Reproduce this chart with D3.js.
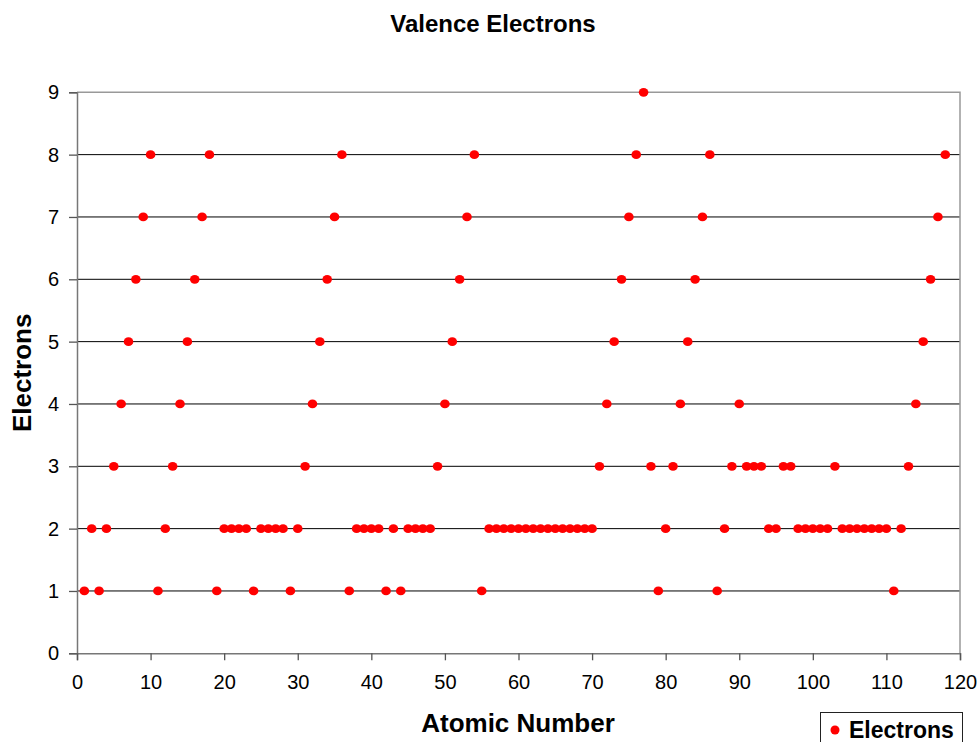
<!DOCTYPE html>
<html>
<head>
<meta charset="utf-8">
<script src="https://cdn.jsdelivr.net/npm/d3@7"></script>
<style>
  html, body { margin: 0; padding: 0; background: #fff; }
  svg { display: block; font-family: "Liberation Sans", Arial, sans-serif; }
</style>
</head>
<body>
<svg id="chart" width="979" height="742"></svg>
<script>
const atomicNumbers = [
  1,2,3,4,5,6,7,8,9,10,11,12,13,14,15,16,17,18,19,20,
  21,22,23,24,25,26,27,28,29,30,31,32,33,34,35,36,37,38,39,40,
  41,42,43,44,45,46,47,48,49,50,51,52,53,54,55,56,57,58,59,60,
  61,62,63,64,65,66,67,68,69,70,71,72,73,74,75,76,77,78,79,80,
  81,82,83,84,85,86,87,88,89,90,91,92,93,94,95,96,97,98,99,100,
  101,102,103,104,105,106,107,108,109,110,111,112,113,114,115,116,117,118
];
const electrons = [
  1,2,1,2,3,4,5,6,7,8, 1,2,3,4,5,6,7,8,1,2,
  2,2,2,1,2,2,2,2,1,2, 3,4,5,6,7,8,1,2,2,2,
  2,1,2,1,2,2,2,2,3,4, 5,6,7,8,1,2,2,2,2,2,
  2,2,2,2,2,2,2,2,2,2, 3,4,5,6,7,8,9,3,1,2,
  3,4,5,6,7,8,1,2,3,4, 3,3,3,2,2,3,3,2,2,2,
  2,2,3,2,2,2,2,2,2,2, 1,2,3,4,5,6,7,8
];
const xTicks = [0,10,20,30,40,50,60,70,80,90,100,110,120];
const yTicks = [0,1,2,3,4,5,6,7,8,9];
const chartTitle = "Valence Electrons";
const xTitle = "Atomic Number";
const yTitle = "Electrons";
const seriesName = "Electrons";

(function () {
const svg = d3.select("#chart");
const pLeft = 77, pRight = 960, pTop = 92.3, pBottom = 653.3;

const x = d3.scaleLinear().domain([0, 120]).range([pLeft, pRight]);
const y = d3.scaleLinear().domain([0, 9]).range([pBottom, pTop]);

// gridlines
svg.append("g").selectAll("line")
  .data(yTicks.filter(d => d > 0 && d < 9))
  .join("line")
  .attr("x1", pLeft).attr("x2", pRight)
  .attr("y1", d => y(d)).attr("y2", d => y(d))
  .attr("stroke", "#000").attr("stroke-width", 1);

// plot border (top & right)
svg.append("path")
  .attr("d", `M${pLeft},${y(9)}H${pRight}V${pBottom}`)
  .attr("fill", "none").attr("stroke", "#999").attr("stroke-width", 1.5);

// y axis
const yAxis = svg.append("g")
  .attr("transform", `translate(${pLeft},0)`)
  .call(d3.axisLeft(y).tickValues(yTicks).tickSize(8).tickPadding(10).tickFormat(d3.format("d")));
yAxis.select(".domain").attr("stroke", "#777").attr("stroke-width", 1.5);
yAxis.selectAll(".tick line").attr("stroke", "#555").attr("stroke-width", 1.3);
yAxis.selectAll("text").attr("font-size", 20).attr("fill", "#000")
  .attr("font-family", "Liberation Sans, Arial, sans-serif");

// x axis
const xAxis = svg.append("g")
  .attr("transform", `translate(0,${pBottom})`)
  .call(d3.axisBottom(x).tickValues(xTicks).tickSize(7).tickPadding(15).tickFormat(d3.format("d")));
xAxis.select(".domain").attr("stroke", "#777").attr("stroke-width", 1.5);
xAxis.selectAll(".tick line").attr("stroke", "#555").attr("stroke-width", 1.3);
xAxis.selectAll("text").attr("font-size", 20).attr("fill", "#000")
  .attr("font-family", "Liberation Sans, Arial, sans-serif");

// points
const data = atomicNumbers.map((n, i) => ({ n, e: electrons[i] }));
svg.append("g").selectAll("ellipse")
  .data(data)
  .join("ellipse")
  .attr("cx", d => x(d.n))
  .attr("cy", d => y(d.e))
  .attr("rx", 4.8).attr("ry", 4.4)
  .attr("fill", "#ff0000");

// titles
svg.append("text")
  .attr("x", 493).attr("y", 32)
  .attr("text-anchor", "middle")
  .attr("font-size", 24).attr("font-weight", "bold")
  .text(chartTitle);

svg.append("text")
  .attr("x", 518).attr("y", 732)
  .attr("text-anchor", "middle")
  .attr("font-size", 26).attr("font-weight", "bold")
  .text(xTitle);

svg.append("text")
  .attr("transform", `translate(31,${(pTop + pBottom) / 2}) rotate(-90)`)
  .attr("text-anchor", "middle")
  .attr("font-size", 26).attr("font-weight", "bold")
  .text(yTitle);

// legend
const lg = svg.append("g");
lg.append("rect")
  .attr("x", 820.5).attr("y", 712.5)
  .attr("width", 142).attr("height", 40)
  .attr("fill", "#fff").attr("stroke", "#222").attr("stroke-width", 1);
lg.append("circle")
  .attr("cx", 835).attr("cy", 730).attr("r", 4.5).attr("fill", "#ff0000");
lg.append("text")
  .attr("x", 849).attr("y", 738)
  .attr("font-size", 23).attr("font-weight", "bold")
  .text(seriesName);
})();
</script>
</body>
</html>
